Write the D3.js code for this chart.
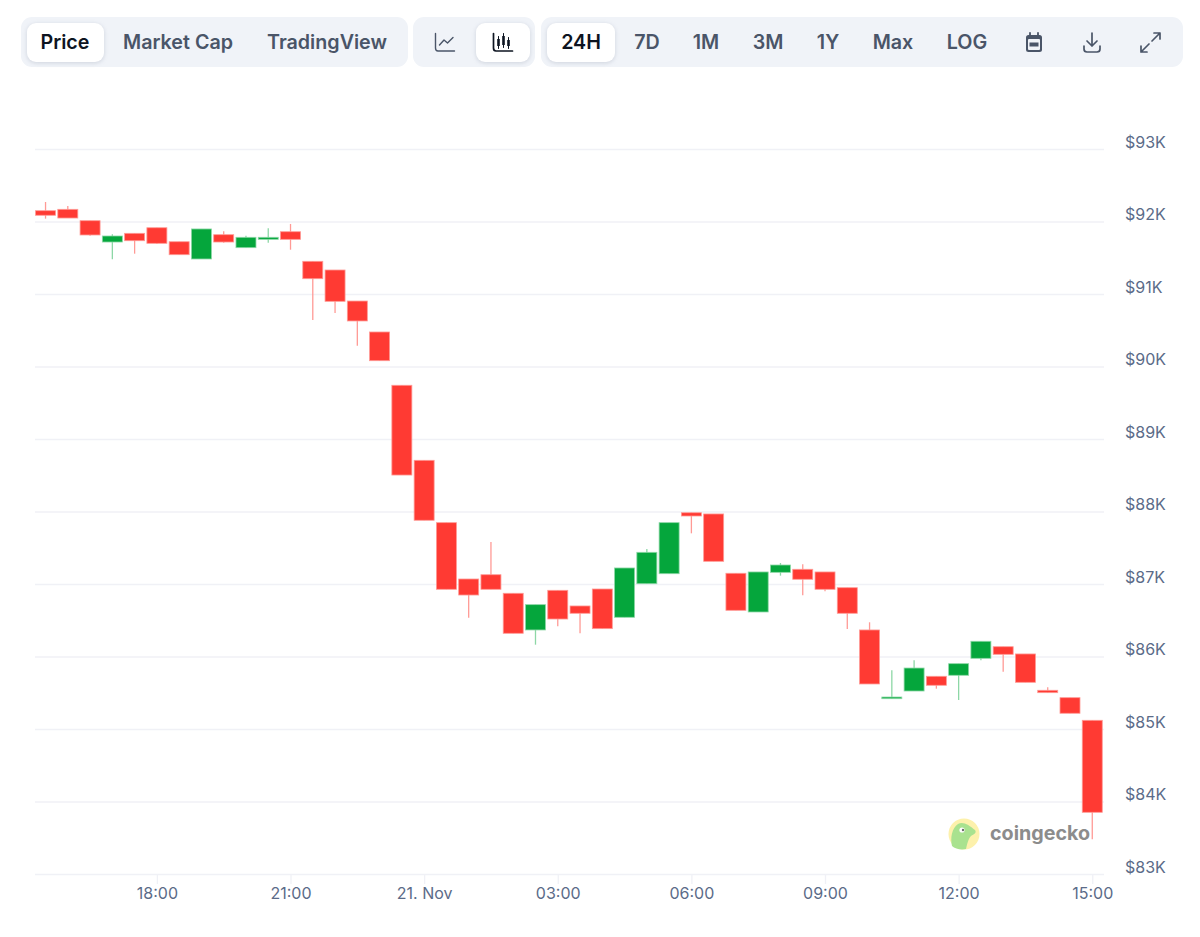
<!DOCTYPE html>
<html>
<head>
<meta charset="utf-8">
<script src="https://cdn.jsdelivr.net/npm/d3@7"></script>
<style>
  html, body { margin: 0; padding: 0; background: #fff; }
  svg { display: block; }
  text { font-family: Inter, "Noto Sans", sans-serif; }
  .axis path { display: none; }
  .btn { filter: drop-shadow(0 1px 2px rgba(88, 102, 126, 0.22)); }
</style>
</head>
<body>
<script>
const candleOpen = [92149,92168,92011,91717,91837,91914,91721,91483,91818,91639,91754,91859,91451,91331,90903,90476,89741,88706,87846,87069,87128,86872,86366,86913,86697,86931,86541,87004,87142,87983,87966,87148,86614,87161,87203,87166,86949,86366,85418,85524,85727,85741,85975,86135,86035,85534,85432,85120];
const candleHigh = [92269,92214,92011,91823,91837,91914,91721,91897,91865,91804,91906,91966,91451,91331,90903,90476,89741,88706,87846,87069,87579,86872,86715,86913,86697,86931,87221,87483,87846,87983,87966,87148,87166,87290,87272,87166,86949,86472,85810,85948,85727,85901,86210,86135,86035,85575,85432,85120];
const candleLow = [92039,92048,91804,91479,91556,91690,91542,91483,91708,91639,91708,91611,90641,90738,90287,90080,88503,87879,86927,86535,86927,86320,86163,86417,86320,86384,86541,87004,87142,87699,87313,86637,86614,87115,86844,86899,86379,85621,85418,85524,85556,85400,85948,85790,85644,85501,85217,83479];
const candleClose = [92086,92048,91814,91800,91735,91699,91542,91897,91717,91782,91782,91754,91211,90899,90628,90080,88503,87879,86927,86848,86927,86320,86715,86517,86596,86384,87221,87437,87846,87938,87313,86637,87166,87262,87065,86927,86596,85621,85441,85841,85603,85901,86210,86030,85644,85501,85217,83851];

const priceTicks = [83000,84000,85000,86000,87000,88000,89000,90000,91000,92000,93000];
const timeTicks = ["2025-11-20T18:00Z","2025-11-20T21:00Z","2025-11-21T00:00Z","2025-11-21T03:00Z","2025-11-21T06:00Z","2025-11-21T09:00Z","2025-11-21T12:00Z","2025-11-21T15:00Z"];
const timeLabels = ["18:00","21:00","21. Nov","03:00","06:00","09:00","12:00","15:00"];
const viewTabs = ["Price","Market Cap","TradingView"];
const rangeTabs = ["24H","7D","1M","3M","1Y","Max","LOG"];
const firstCandle = "2025-11-20T15:30Z";

const ink = "#0d1421", slate = "#4a5568", axisText = "#5b6b88", panel = "#f0f3f8", gridColor = "#f0f1f6";
const upColor = "#05a63c", downColor = "#ff3a33";
const upEdge = "#8dd7a6", downEdge = "#ff9a95";

const svg = d3.select("body").append("svg").attr("width", 1200).attr("height", 937);

// toolbar
const toolbar = svg.append("g");
const panels = [[21,387],[413,122],[541,642]];
toolbar.selectAll("rect.panel").data(panels).enter().append("rect")
  .attr("class", "panel")
  .attr("x", d => d[0]).attr("y", 17).attr("width", d => d[1]).attr("height", 50)
  .attr("rx", 11).attr("fill", panel);
const activeBtns = [[27,77],[476,54],[547,68]];
toolbar.selectAll("rect.btn").data(activeBtns).enter().append("rect")
  .attr("class", "btn")
  .attr("x", d => d[0]).attr("y", 23).attr("width", d => d[1]).attr("height", 39)
  .attr("rx", 9).attr("fill", "#fff");

const tabCenters = [65,178,327];
const rangeCenters = [581,647,706,768,828,893,967];
const tabText = (labels, centers) => toolbar.append("g").selectAll("text").data(labels).enter().append("text")
  .attr("x", (d, i) => centers[i]).attr("y", 49)
  .attr("text-anchor", "middle")
  .attr("font-size", 19.7).attr("font-weight", 600)
  .attr("fill", (d, i) => i === 0 ? ink : slate)
  .text(d => d);
tabText(viewTabs, tabCenters);
tabText(rangeTabs, rangeCenters);

// toolbar icons, drawn in their own little boxes
const icon = (x, y, color) => toolbar.append("g").attr("transform", `translate(${x},${y})`)
  .attr("fill", "none").attr("stroke", color).attr("stroke-width", 1.7)
  .attr("stroke-linecap", "round").attr("stroke-linejoin", "round");

const lineIcon = icon(435, 33, slate);
lineIcon.append("path").attr("d", "M0.5 0.5V15Q0.5 18 3 18H19.5").attr("stroke-width", 1.4);
lineIcon.append("path").attr("d", "M4.5 12L9 7L12.5 10L18 4.5").attr("stroke-width", 1.4);

const candleIcon = icon(493, 33, ink);
candleIcon.append("path").attr("d", "M0.5 0.5V15Q0.5 18 3 18H19.5");
[[5.5,5,9],[10.5,2,11],[15.5,6,8]].forEach(d => {
  candleIcon.append("path").attr("d", `M${d[0]} ${d[1] - 1.5}V${d[1] + d[2] + 1.5}`).attr("stroke-width", 1);
  candleIcon.append("rect").attr("x", d[0] - 1.3).attr("y", d[1] + 1).attr("width", 2.6).attr("height", d[2] - 2)
    .attr("fill", ink).attr("stroke", "none");
});

const calIcon = icon(1025, 32, slate);
calIcon.append("rect").attr("x", 1).attr("y", 3).attr("width", 16).attr("height", 17).attr("rx", 2.5)
  .attr("fill", slate).attr("stroke", "none");
calIcon.append("rect").attr("x", 3).attr("y", 7).attr("width", 12).attr("height", 11).attr("rx", 1).attr("fill", panel).attr("stroke", "none");
calIcon.append("rect").attr("x", 4.5).attr("y", 10.5).attr("width", 9).attr("height", 4).attr("fill", slate).attr("stroke", "none");
calIcon.append("path").attr("d", "M5 0.8V4M13 0.8V4").attr("stroke-width", 1.8);

const dlIcon = icon(1083, 32, slate);
dlIcon.append("path").attr("d", "M9 1V14M4 9L9 14L14 9");
dlIcon.append("path").attr("d", "M1 14V17Q1 20 4 20H14Q17 20 17 17V14");

const expandIcon = icon(1140, 32, slate);
expandIcon.append("path").attr("d", "M12 9L20 1M14 1H20V7M9 12L1 20M1 14V20H7");

// scales
const parseTime = d3.isoParse;
const xScale = d3.scaleUtc()
  .domain([parseTime("2025-11-20T15:15Z"), parseTime("2025-11-21T15:15Z")])
  .range([34.4, 1103.4]);
const yScale = d3.scaleLinear().domain([83000, 93000]).range([874, 149]);

// gridlines
svg.append("g").attr("class", "axis grid")
  .attr("transform", "translate(1104,0)")
  .call(d3.axisLeft(yScale).tickValues(priceTicks).tickSize(1069).tickFormat(""))
  .call(g => g.selectAll("line").attr("stroke", gridColor).attr("stroke-width", 1.3));

// price labels sit above their gridline
svg.append("g").attr("class", "axis")
  .attr("transform", "translate(1125,0)")
  .call(d3.axisRight(yScale).tickValues(priceTicks).tickSize(0).tickPadding(0).tickFormat(d => `$${d / 1000}K`))
  .call(g => g.selectAll("text")
    .attr("dy", "-0.12em")
    .attr("font-family", "Inter, sans-serif")
    .attr("font-size", 16)
    .attr("fill", axisText));

// time axis
const tickDates = timeTicks.map(parseTime);
svg.append("g").attr("class", "axis")
  .attr("transform", "translate(0,874)")
  .call(d3.axisBottom(xScale).tickValues(tickDates).tickSize(10).tickPadding(4)
    .tickFormat((d, i) => timeLabels[i]))
  .call(g => g.selectAll("line").attr("stroke", gridColor).attr("stroke-width", 1.3))
  .call(g => g.selectAll("text")
    .attr("font-family", "Inter, sans-serif")
    .attr("font-size", 16)
    .attr("fill", axisText));

// watermark
const mark = svg.append("g");
mark.append("circle").attr("cx", 964).attr("cy", 834).attr("r", 15.5).attr("fill", "#fdf1ac");
mark.append("path")
  .attr("d", "M952 846C950 838 952 828 958 824C963 821 969 825 975 830C977 833 974 834 971 836C968 839 967 845 966 849C961 850 955 849 952 846Z")
  .attr("fill", "#a9e28f");
mark.append("circle").attr("cx", 962).attr("cy", 830).attr("r", 2.6).attr("fill", "#fff");
mark.append("circle").attr("cx", 963).attr("cy", 830).attr("r", 1.2).attr("fill", "#6b6b6b");
mark.append("text").attr("x", 990).attr("y", 840)
  .attr("font-size", 19.7).attr("font-weight", 700).attr("fill", "#8c8c8c")
  .text("coingecko");

// candles, one every half hour
const start = parseTime(firstCandle);
const candles = candleOpen.map((open, i) => ({
  time: d3.utcMinute.offset(start, 30 * i),
  open,
  high: candleHigh[i],
  low: candleLow[i],
  close: candleClose[i],
}));
const bodyWidth = 20;

const candle = svg.append("g").selectAll("g").data(candles).enter().append("g");
candle.append("line")
  .attr("x1", d => xScale(d.time)).attr("x2", d => xScale(d.time))
  .attr("y1", d => yScale(d.high)).attr("y2", d => yScale(d.low))
  .attr("stroke", d => d.close > d.open ? upEdge : downEdge)
  .attr("stroke-width", 1.3);
candle.append("rect")
  .attr("x", d => xScale(d.time) - bodyWidth / 2)
  .attr("y", d => yScale(Math.max(d.open, d.close)))
  .attr("width", bodyWidth)
  .attr("height", d => Math.abs(yScale(d.open) - yScale(d.close)))
  .attr("fill", d => d.close > d.open ? upColor : downColor)
  .attr("stroke", d => d.close > d.open ? upEdge : downEdge)
  .attr("stroke-width", 0.8);
</script>
</body>
</html>
